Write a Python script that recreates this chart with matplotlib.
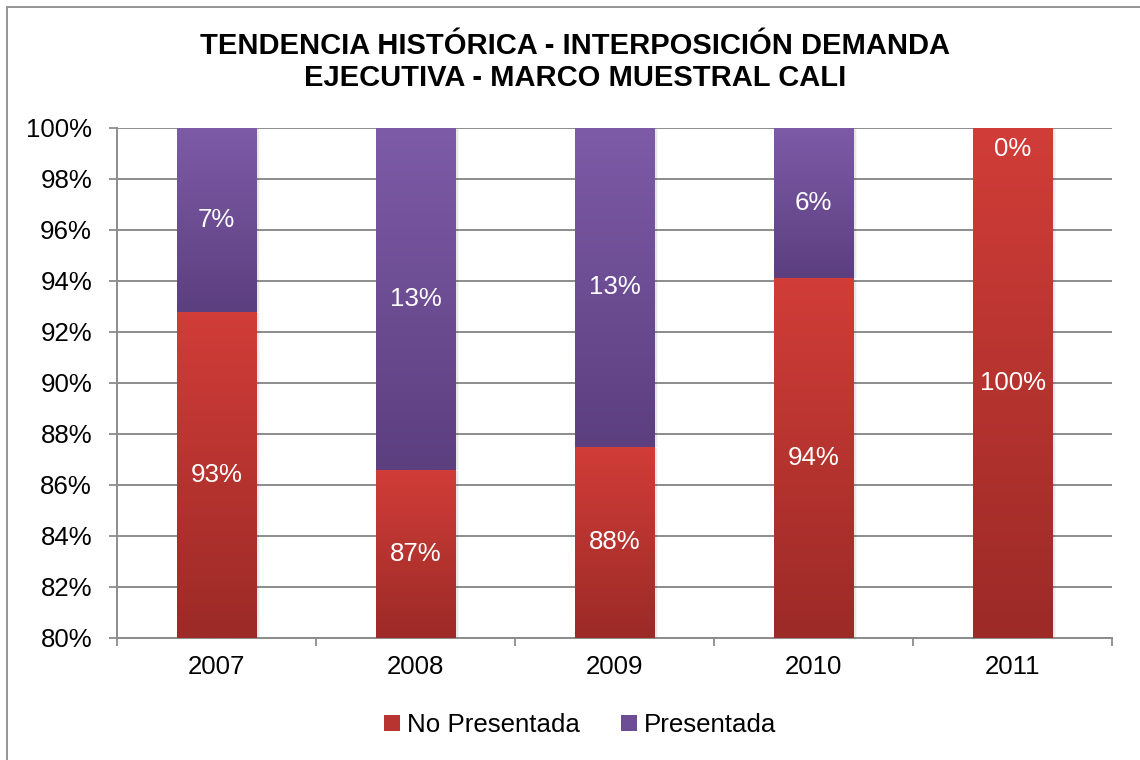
import numpy as np
import matplotlib
matplotlib.use("Agg")
import matplotlib.pyplot as plt
from matplotlib.patches import Rectangle

plt.rcParams['font.family'] = ['Liberation Sans', 'DejaVu Sans']

# ---- data ----
years = ["2007", "2008", "2009", "2010", "2011"]
no_presentada = [92.8, 86.6, 87.5, 94.1, 100.0]
presentada = [7.2, 13.4, 12.5, 5.9, 0.0]
no_labels = ["93%", "87%", "88%", "94%", "100%"]
si_labels = ["7%", "13%", "13%", "6%", "0%"]
yticks = [80, 82, 84, 86, 88, 90, 92, 94, 96, 98, 100]
title = "TENDENCIA HISTÓRICA - INTERPOSICIÓN DEMANDA\nEJECUTIVA - MARCO MUESTRAL CALI"
series_names = ["No Presentada", "Presentada"]

red_top, red_bot = np.array([209, 61, 56]) / 255, np.array([156, 42, 39]) / 255
pur_top, pur_bot = np.array([125, 91, 167]) / 255, np.array([92, 63, 127]) / 255

FS = 18.6
W, H = 1140, 760
fig = plt.figure(figsize=(W / 100, H / 100), dpi=100)
ax = fig.add_axes([117 / W, 1 - 638 / H, (1112 - 117) / W, (638 - 128) / H])

ymin, ymax = 80, 100
ax.set_ylim(ymin, ymax)
x = np.arange(len(years))
ax.set_xlim(-0.5, len(years) - 0.5)
width = 0.40

b1 = ax.bar(x, no_presentada, width, color='none', linewidth=0, zorder=3)
b2 = ax.bar(x, presentada, width, bottom=no_presentada, color='none', linewidth=0, zorder=3)


def grad_fill(patch, ctop, cbot, label):
    x0 = patch.get_x()
    w = patch.get_width()
    y0 = patch.get_y()
    h = patch.get_height()
    lo = max(y0, ymin)
    hi = min(y0 + h, ymax)
    if hi > lo:
        t = np.linspace(0, 1, 256)[:, None]
        img = ctop[None, :] * (1 - t) + cbot[None, :] * t
        img = img[:, None, :]
        for k, a in enumerate([0.10, 0.06, 0.03]):
            ax.add_patch(Rectangle((x0 + w, lo), 0.006 * (k + 1), hi - lo - 0.05,
                                   facecolor='black', alpha=a, linewidth=0, zorder=2))
        ax.imshow(img, extent=[x0, x0 + w, lo, hi], aspect='auto',
                  zorder=3, interpolation='bilinear')
        ax.text(x0 + w / 2, (lo + hi) / 2, label, ha='center', va='center',
                color='white', fontsize=FS, zorder=5)
    else:
        ax.annotate(label, (x0 + w / 2, min(y0, ymax)), xytext=(0, -15),
                    textcoords='offset points', ha='center', va='center',
                    color='white', fontsize=FS, zorder=5)


for p, lab in zip(b1.patches, no_labels):
    grad_fill(p, red_top, red_bot, lab)
for p, lab in zip(b2.patches, si_labels):
    grad_fill(p, pur_top, pur_bot, lab)

ax.set_xlim(-0.5, len(years) - 0.5)
ax.set_ylim(ymin, ymax)

grid_c = '#8c8c8c'
ax.set_yticks(yticks)
ax.set_yticklabels([f"{v}%" for v in yticks], fontsize=FS)
ax.yaxis.grid(True, color=grid_c, linewidth=1.4, zorder=1)
ax.set_axisbelow(True)
ax.tick_params(axis='y', length=6, width=1.3, color=grid_c, pad=12, direction='out')

ax.set_xticks(np.arange(-0.5, len(years), 1.0))
ax.set_xticklabels([])
ax.tick_params(axis='x', which='major', length=5.5, width=1.3, color=grid_c, direction='out')
ax.set_xticks(x, minor=True)
ax.set_xticklabels(years, minor=True, fontsize=FS)
ax.tick_params(axis='x', which='minor', length=0, pad=12)

for s in ['top', 'right']:
    ax.spines[s].set_visible(False)
for s in ['left', 'bottom']:
    ax.spines[s].set_color(grid_c)
    ax.spines[s].set_linewidth(1.4)

fig.text(575 / W, 1 - 62 / H, title, ha='center', va='center', fontsize=21,
         fontweight='bold', linespacing=1.17)

handles = [Rectangle((0, 0), 1, 1, facecolor=(red_top + red_bot) / 2),
           Rectangle((0, 0), 1, 1, facecolor=(pur_top + pur_bot) / 2)]
fig.legend(handles, series_names, loc='center', bbox_to_anchor=(580 / W, 1 - 725 / H),
           ncol=2, frameon=False, fontsize=FS, handlelength=0.62, handleheight=0.62,
           handletextpad=0.25, columnspacing=1.6)

fig.patches.append(Rectangle((7 / W, -0.1), 1.2, (H - 7) / H + 0.1, transform=fig.transFigure,
                             fill=False, edgecolor='#8c8c8c', linewidth=1.3, zorder=0))

fig.savefig("out.png", dpi=100, facecolor='white')
